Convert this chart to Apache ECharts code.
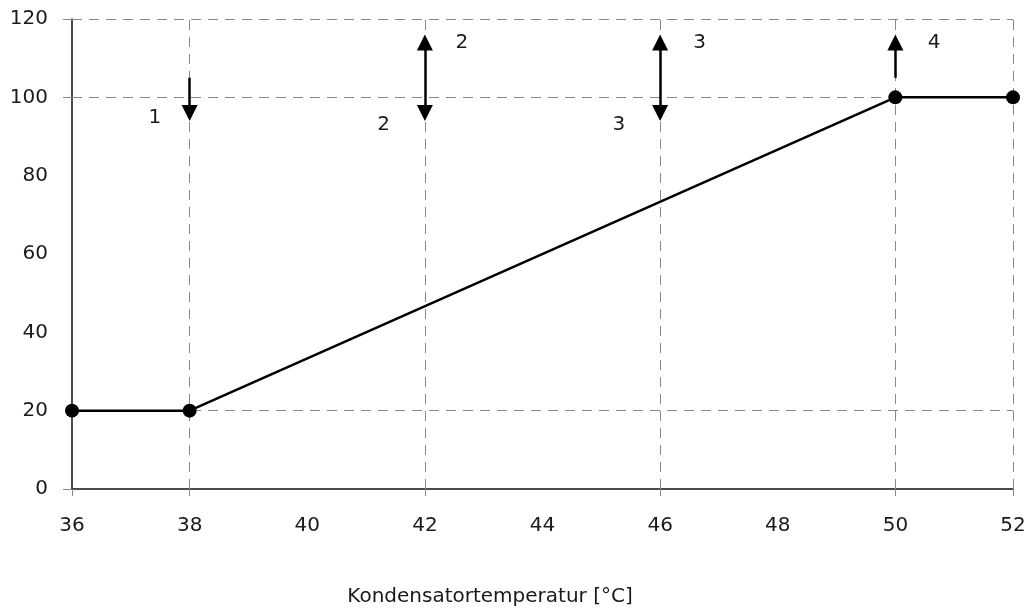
<!DOCTYPE html>
<html><head><meta charset="utf-8">
<script src="https://cdn.jsdelivr.net/npm/echarts@6/dist/echarts.min.js"></script>
<style>html,body{margin:0;padding:0;background:#fff}#c{width:1025px;height:609px}</style>
</head><body><div id="c"></div>
<script>
const xTicks = [36, 38, 40, 42, 44, 46, 48, 50, 52];
const yTicks = [0, 20, 40, 60, 80, 100, 120];
const curveX = [36, 38, 50, 52];
const curveY = [20, 20, 100, 100];
const gridX = [38, 42, 46, 50, 52];
const gridY = [20, 100, 120];
const arrowX = [38, 42, 46, 50];
const arrowFrom = [105, 114, 114, 105];
const arrowTo = [96, 96, 96, 114];
const arrowDouble = [false, true, true, false];
const labelText = ['1', '2', '2', '3', '3', '4'];
const labelX = [37.41, 42.63, 41.3, 46.67, 45.3, 50.66];
const labelY = [94.7, 113.9, 93, 113.9, 93, 113.9];
const xName = 'Kondensatortemperatur [°C]';

const FONT = '"DejaVu Sans"';
const TXT = '#1a1a1a';
const FS = 20;
const chart = echarts.init(document.getElementById('c'));
const markLines = [];
gridX.forEach(x => markLines.push([{coord: [x, 0], symbol: 'none'}, {coord: [x, 120], symbol: 'none'}]));
gridY.forEach(y => markLines.push([{coord: [36, y], symbol: 'none'}, {coord: [52, y], symbol: 'none'}]));
const arrowLines = arrowX.map((x, i) => [
  {coord: [x, arrowFrom[i]], symbol: arrowDouble[i] ? 'triangle' : 'none'},
  {coord: [x, arrowTo[i]], symbol: 'triangle'}
]);
chart.setOption({
  animation: false,
  grid: {left: 72, right: 12, top: 19, bottom: 120, outerBoundsMode: 'none', containLabel: false},
  xAxis: {
    type: 'value', min: 36, max: 52, interval: 2,
    axisLine: {lineStyle: {color: '#111', width: 1.5}},
    axisTick: {show: true, length: 7, lineStyle: {color: '#888'}, customValues: [36].concat(gridX)},
    axisLabel: {color: TXT, fontFamily: FONT, fontSize: FS, margin: 27, customValues: xTicks},
    splitLine: {show: false}
  },
  yAxis: {
    type: 'value', min: 0, max: 120, interval: 20,
    axisLine: {show: true, lineStyle: {color: '#111', width: 1.5}},
    axisTick: {show: true, length: 9, lineStyle: {color: '#888'}, customValues: [0, 100, 120]},
    axisLabel: {color: TXT, fontFamily: FONT, fontSize: FS, margin: 24, customValues: yTicks},
    splitLine: {show: false}
  },
  graphic: [{
    type: 'text', x: 490, y: 597,
    style: {text: xName, fill: TXT, font: FS + 'px ' + FONT, textAlign: 'center', textVerticalAlign: 'middle'}
  }],
  series: [
    {
      type: 'line', data: [], silent: true,
      markLine: {
        silent: true, symbol: 'none', animation: false,
        label: {show: false},
        lineStyle: {color: '#888', width: 1, type: [10, 7]},
        data: markLines
      }
    },
    {
      type: 'line', data: curveX.map((x, i) => [x, curveY[i]]),
      symbol: 'circle', symbolSize: 14,
      lineStyle: {color: '#000', width: 2.5},
      itemStyle: {color: '#000'},
      z: 5
    },
    {
      type: 'line', data: [], silent: true,
      markLine: {
        silent: true, animation: false,
        symbolSize: [16, 16],
        label: {show: false},
        lineStyle: {color: '#000', width: 2.5, type: 'solid'},
        itemStyle: {color: '#000'},
        data: arrowLines
      }
    },
    {
      type: 'scatter', symbolSize: 0, silent: true,
      itemStyle: {opacity: 1},
      data: labelText.map((t, i) => ({value: [labelX[i], labelY[i]], name: t})),
      label: {show: true, position: 'inside', formatter: p => p.name, color: TXT, fontFamily: FONT, fontSize: FS}
    }
  ]
});
</script></body></html>
